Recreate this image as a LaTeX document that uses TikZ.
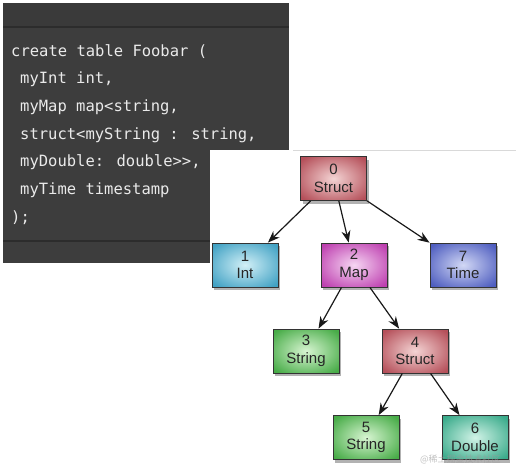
\documentclass[tikz,border=0pt]{standalone}
\usepackage{fontspec}
\setmainfont{Liberation Sans}
\newfontfamily\codefont{DejaVu Sans Mono}
\newfontfamily\cjkfont{Noto Sans CJK SC}
\usetikzlibrary{arrows.meta,shadows}
\definecolor{panel}{HTML}{3D3D3D}
\definecolor{panelband}{HTML}{3A3A3A}
\definecolor{panelline}{HTML}{2C2C2C}
\definecolor{codetext}{HTML}{EAEAEA}
\definecolor{redout}{HTML}{B5505A}
\definecolor{redin}{HTML}{F4D4D4}
\definecolor{cyanout}{HTML}{42A2C4}
\definecolor{cyanin}{HTML}{D2F0F7}
\definecolor{magout}{HTML}{BE40B0}
\definecolor{magin}{HTML}{F6D6F3}
\definecolor{blueout}{HTML}{4F5EC0}
\definecolor{bluein}{HTML}{D2D8F5}
\definecolor{greenout}{HTML}{48AC48}
\definecolor{greenin}{HTML}{D8F5D2}
\definecolor{tealout}{HTML}{3AAB8B}
\definecolor{tealin}{HTML}{D2F3E7}
\pgfdeclareradialshading{shred}{\pgfpoint{0bp}{0bp}}{color(0bp)=(redin);color(32bp)=(redout);color(50bp)=(redout)}
\pgfdeclareradialshading{shcyan}{\pgfpoint{0bp}{0bp}}{color(0bp)=(cyanin);color(32bp)=(cyanout);color(50bp)=(cyanout)}
\pgfdeclareradialshading{shmag}{\pgfpoint{0bp}{0bp}}{color(0bp)=(magin);color(32bp)=(magout);color(50bp)=(magout)}
\pgfdeclareradialshading{shblue}{\pgfpoint{0bp}{0bp}}{color(0bp)=(bluein);color(32bp)=(blueout);color(50bp)=(blueout)}
\pgfdeclareradialshading{shgreen}{\pgfpoint{0bp}{0bp}}{color(0bp)=(greenin);color(32bp)=(greenout);color(50bp)=(greenout)}
\pgfdeclareradialshading{shteal}{\pgfpoint{0bp}{0bp}}{color(0bp)=(tealin);color(32bp)=(tealout);color(50bp)=(tealout)}
\tikzset{
  codeline/.style={anchor=base west, inner sep=0pt, text=codetext,
    font=\codefont\fontsize{15.5}{18}\selectfont},
  tnode/.style={draw=black!80, line width=0.8pt, minimum width=66pt,
    minimum height=44pt, inner sep=0pt, align=center, text=black!85,
    font=\fontsize{15}{17.5}\selectfont,
    general shadow={shadow xshift=2pt, shadow yshift=-3pt, fill=black, opacity=0.3}},
  rednode/.style={tnode, shading=shred},
  cyannode/.style={tnode, shading=shcyan},
  magnode/.style={tnode, shading=shmag},
  bluenode/.style={tnode, shading=shblue},
  greennode/.style={tnode, shading=shgreen},
  tealnode/.style={tnode, shading=shteal},
  edge/.style={draw=black!90, line width=1.2pt, -{Stealth[length=12pt,width=9pt]}}
}
\begin{document}
\begin{tikzpicture}[x=1pt,y=-1pt]
\useasboundingbox (0,0) rectangle (516,469);
\fill[white] (0,0) rectangle (516,469);
% dark code panel
\fill[panel] (3,3) rectangle (289,263);
\draw[black!30, line width=0.6pt] (3,3) -- (289,3);
\fill[panelband] (3,3) rectangle (289,27);
\draw[panelline, line width=1.2pt] (3,27) -- (289,27);
\draw[panelline, line width=1.2pt] (3,241) -- (289,241);
\node[codeline] (c1) at (11,56) {create table Foobar (};
\node[codeline] (c2) at (20,83.7) {myInt int,};
\node[codeline] (c3) at (20,111.4) {myMap map<string,};
\node[codeline] (c4) at (20,139.1) {struct<myString : string,};
\node[codeline] (c5) at (20,166.8) {myDouble: double>>,};
\node[codeline] (c6) at (20,194.5) {myTime timestamp};
\node[codeline] (c7) at (11,222.2) {);};
% white tree panel
\fill[white] (210,150) rectangle (516,469);
\draw[black!15, line width=0.8pt] (293,150) -- (516,150);
% tree
\node[rednode] (n0) at (333.5,178.5) {0\\Struct};
\node[cyannode] (n1) at (245,265) {1\\Int};
\node[magnode] (n2) at (354,265) {2\\Map};
\node[bluenode] (n7) at (463,265) {7\\Time};
\node[greennode] (n3) at (306,351) {3\\String};
\node[rednode] (n4) at (415,351) {4\\Struct};
\node[greennode] (n5) at (366,437.5) {5\\String};
\node[tealnode] (n6) at (475,437.5) {6\\Double};
\draw[edge] (n0) -- (n1);
\draw[edge] (n0) -- (n2);
\draw[edge] (n0) -- (n7);
\draw[edge] (n2) -- (n3);
\draw[edge] (n2) -- (n4);
\draw[edge] (n4) -- (n5);
\draw[edge] (n4) -- (n6);
\node[font=\cjkfont\fontsize{9}{10}\selectfont, text=black!40, opacity=0.6, anchor=west, inner sep=0pt] (wm) at (420,459) {@稀土掘金技术社区};
\end{tikzpicture}
\end{document}
